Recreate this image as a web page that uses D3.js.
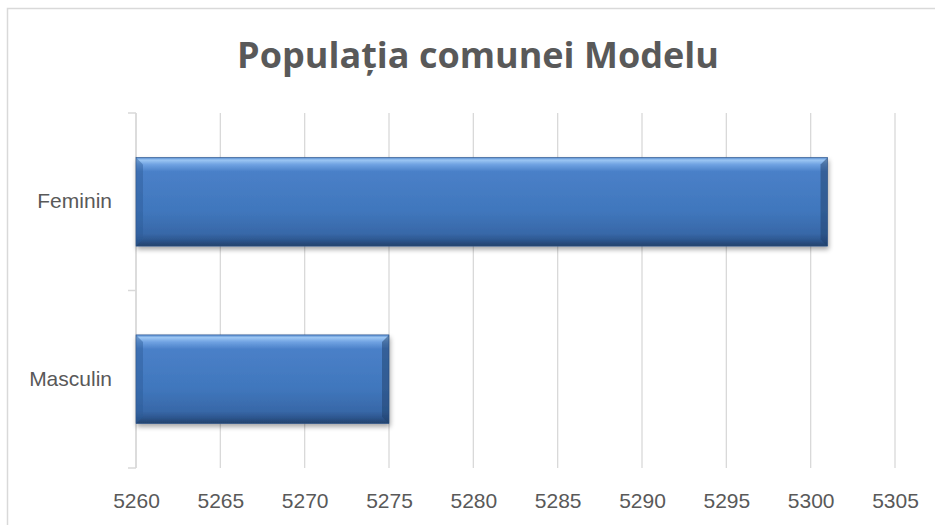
<!DOCTYPE html>
<html>
<head>
<meta charset="utf-8">
<script src="https://cdn.jsdelivr.net/npm/d3@7"></script>
<style>
  body { margin: 0; background: #fff; }
  svg { display: block; }
</style>
</head>
<body>
<div id="chart"></div>
<script>
// data
const categories = ["Feminin", "Masculin"];
const values = [5301, 5275];
const xTicks = [5260, 5265, 5270, 5275, 5280, 5285, 5290, 5295, 5300, 5305];
const titleText = "Populația comunei Modelu";

const W = 935, H = 525;
const plotLeft = 136, plotRight = 895, plotTop = 113, plotBottom = 468;

const svg = d3.select("#chart").append("svg")
  .attr("width", W)
  .attr("height", H);

// chart outline (only top/left visible)
svg.append("rect")
  .attr("x", 7.5).attr("y", 8.5)
  .attr("width", 940).attr("height", 540)
  .attr("fill", "none")
  .attr("stroke", "#d9d9d9")
  .attr("stroke-width", 1.5);

const defs = svg.append("defs");
const grad = defs.append("linearGradient")
  .attr("id", "barGrad")
  .attr("x1", 0).attr("y1", 0).attr("x2", 0).attr("y2", 1);
[[0, "#4f86cc"], [0.03, "#9cc6f3"], [0.08, "#6fa2e2"], [0.16, "#4a80c8"],
 [0.6, "#4077bd"], [0.86, "#3868a8"], [0.93, "#2d5790"], [1, "#23426b"]]
  .forEach(s => grad.append("stop").attr("offset", s[0]).attr("stop-color", s[1]));

const shadow = defs.append("filter")
  .attr("id", "shadow")
  .attr("x", "-5%").attr("y", "-10%").attr("width", "110%").attr("height", "130%");
shadow.append("feGaussianBlur").attr("in", "SourceAlpha").attr("stdDeviation", 2.5);
shadow.append("feOffset").attr("dx", 1).attr("dy", 3).attr("result", "b");
shadow.append("feComponentTransfer").append("feFuncA").attr("type", "linear").attr("slope", 0.35);
const merge = shadow.append("feMerge");
merge.append("feMergeNode");
merge.append("feMergeNode").attr("in", "SourceGraphic");

const x = d3.scaleLinear().domain([5260, 5305]).range([plotLeft, plotRight]);
const y = d3.scaleBand().domain(categories).range([plotTop, plotBottom]).paddingInner(0.5).paddingOuter(0.25);

// gridlines
svg.append("g")
  .selectAll("line")
  .data(xTicks)
  .join("line")
  .attr("x1", d => x(d)).attr("x2", d => x(d))
  .attr("y1", plotTop).attr("y2", plotBottom)
  .attr("stroke", "#d9d9d9")
  .attr("stroke-width", 1.3);

// category axis
const yAxis = svg.append("g")
  .attr("transform", `translate(${plotLeft},0)`)
  .call(d3.axisLeft(y).tickSize(0).tickPadding(24));
yAxis.select(".domain").remove();
yAxis.selectAll("text")
  .attr("font-family", "'Liberation Sans', Arial, sans-serif")
  .attr("font-size", 21)
  .attr("fill", "#595959");

// axis line and boundary ticks
svg.append("line")
  .attr("x1", plotLeft).attr("x2", plotLeft)
  .attr("y1", plotTop).attr("y2", plotBottom)
  .attr("stroke", "#d9d9d9").attr("stroke-width", 1.5);
const bounds = [plotTop].concat(categories.map(c => y(c) + y.bandwidth() + y.step() * y.paddingInner() / 2));
bounds[bounds.length - 1] = plotBottom;
svg.append("g").selectAll("line")
  .data(bounds)
  .join("line")
  .attr("x1", plotLeft - 8).attr("x2", plotLeft)
  .attr("y1", d => d).attr("y2", d => d)
  .attr("stroke", "#d9d9d9").attr("stroke-width", 1.5);

// x labels
const xAxis = svg.append("g")
  .attr("transform", `translate(0,${plotBottom})`)
  .call(d3.axisBottom(x).tickValues(xTicks).tickSize(0).tickPadding(25).tickFormat(d3.format("d")));
xAxis.select(".domain").remove();
xAxis.selectAll("text")
  .attr("font-family", "'Liberation Sans', Arial, sans-serif")
  .attr("font-size", 21)
  .attr("fill", "#595959");

// bars
const bars = svg.append("g").selectAll("g")
  .data(categories)
  .join("g")
  .attr("filter", "url(#shadow)");

bars.append("rect")
  .attr("x", x(5260))
  .attr("y", d => y(d))
  .attr("width", (d, i) => x(values[i]) - x(5260))
  .attr("height", y.bandwidth())
  .attr("fill", "url(#barGrad)")
  .attr("stroke", "#2f558a")
  .attr("stroke-width", 0.6);

// bevel edges
const bev = 7;
bars.append("path")
  .attr("d", d => {
    const x0 = x(5260), y0 = y(d), h = y.bandwidth();
    return `M${x0},${y0} L${x0 + bev},${y0 + bev} L${x0 + bev},${y0 + h - bev} L${x0},${y0 + h} Z`;
  })
  .attr("fill", "#2c5a96").attr("opacity", 0.45);
bars.append("path")
  .attr("d", (d, i) => {
    const x1 = x(values[i]), y0 = y(d), h = y.bandwidth();
    return `M${x1},${y0} L${x1 - bev},${y0 + bev} L${x1 - bev},${y0 + h - bev} L${x1},${y0 + h} Z`;
  })
  .attr("fill", "#1f3f6a").attr("opacity", 0.5);

// title
svg.append("text")
  .attr("x", 478)
  .attr("y", 68)
  .attr("text-anchor", "middle")
  .attr("font-family", "'Open Sans', sans-serif")
  .attr("font-weight", "bold")
  .attr("font-size", 36)
  .attr("fill", "#595959")
  .text(titleText);
</script>
</body>
</html>
